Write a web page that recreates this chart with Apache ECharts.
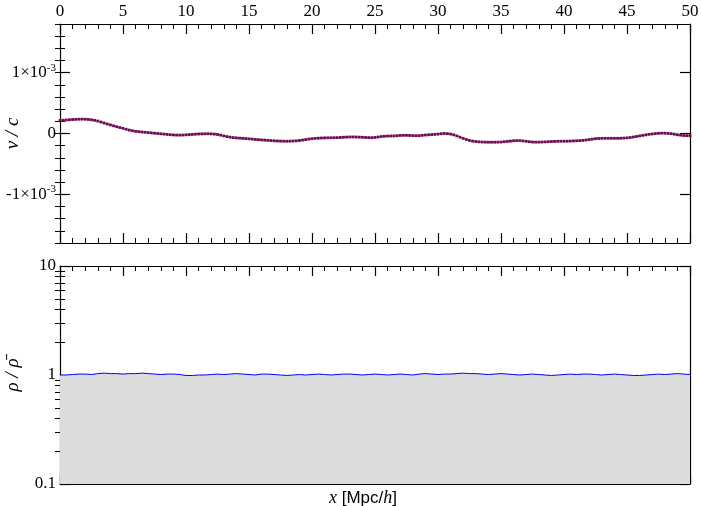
<!DOCTYPE html>
<html><head><meta charset="utf-8">
<script src="https://cdn.jsdelivr.net/npm/echarts@6/dist/echarts.min.js"></script>
<style>html,body{margin:0;padding:0;background:#fff}#c{width:701px;height:506px}</style>
</head><body><div id="c"></div>
<script>
// x step of the sampled profiles (Mpc/h)
const VEL_STEP = 0.25;
const DEN_STEP = 0.5;
// peculiar velocity v/c, in units of 1e-3, x = 0..50 every 0.25
const velocity = [
 .213,.218,.222,.226,.230,.233,.235,.236,.235,.231,.225,.216,.205,.188,.172,.156,.141,.126,.111,.098,
 .085,.070,.056,.045,.036,.030,.025,.020,.015,.010,.005,.000,-.005,-.010,-.015,-.020,-.024,-.026,-.027,-.025,
 -.022,-.018,-.015,-.011,-.008,-.006,-.005,-.004,-.006,-.010,-.016,-.027,-.040,-.051,-.060,-.067,-.072,-.076,-.080,-.084,
 -.088,-.092,-.097,-.101,-.105,-.109,-.113,-.117,-.120,-.123,-.125,-.126,-.127,-.126,-.124,-.120,-.115,-.108,-.100,-.092,
 -.085,-.080,-.077,-.074,-.072,-.071,-.070,-.069,-.068,-.065,-.062,-.059,-.057,-.057,-.058,-.060,-.062,-.065,-.068,-.068,
 -.065,-.058,-.050,-.045,-.042,-.041,-.040,-.036,-.032,-.030,-.030,-.032,-.035,-.036,-.035,-.030,-.025,-.021,-.018,-.014,
 -.010,-.004,.000,-.003,-.010,-.022,-.040,-.060,-.080,-.098,-.115,-.125,-.132,-.137,-.140,-.142,-.143,-.143,-.143,-.142,
 -.140,-.135,-.130,-.125,-.120,-.117,-.118,-.122,-.128,-.135,-.140,-.142,-.142,-.140,-.138,-.135,-.132,-.130,-.128,-.127,
 -.127,-.126,-.124,-.122,-.120,-.117,-.113,-.107,-.100,-.092,-.085,-.082,-.080,-.079,-.079,-.079,-.079,-.079,-.078,-.075,
 -.072,-.066,-.058,-.049,-.040,-.031,-.022,-.014,-.008,-.002,.003,.005,.005,.002,-.003,-.011,-.020,-.027,-.033,-.035,
 -.035
];
// density contrast rho/rhobar, x = 0..50 every 0.5
const density = [
 1.00,1.00,1.01,1.02,1.02,1.01,1.03,1.04,1.03,1.03,
 1.02,1.03,1.03,1.04,1.03,1.02,1.01,1.02,1.02,1.01,
 0.99,0.99,1.00,1.00,1.01,1.02,1.01,1.02,1.03,1.02,
 1.01,1.00,1.02,1.02,1.01,1.00,0.99,1.00,1.01,1.00,
 1.01,1.02,1.01,1.00,1.01,1.02,1.02,1.01,1.00,1.01,
 1.02,1.01,1.00,1.01,1.02,1.01,1.00,1.02,1.03,1.02,
 1.01,1.02,1.02,1.03,1.04,1.03,1.03,1.02,1.01,1.02,
 1.03,1.02,1.01,1.00,1.01,1.02,1.01,1.00,0.99,1.00,
 1.01,1.02,1.01,1.02,1.02,1.01,1.00,1.01,1.02,1.01,
 1.00,0.99,0.99,1.00,1.01,1.02,1.01,1.02,1.03,1.02,
 1.01
];
const velMajorTicks = [-1, 0, 1];
const denMinorTicks = [0.2,0.3,0.4,0.5,0.6,0.7,0.8,0.9,2,3,4,5,6,7,8,9];

const velData = velocity.map((v, i) => [i * VEL_STEP, v]);
const denData = density.map((d, i) => [i * DEN_STEP, d]);

const FONT = '"Liberation Serif", "DejaVu Serif", serif';
const lineStyle = {color: '#000', width: 1.2};
const labelStyle = {color: '#000', fontFamily: FONT, fontSize: 17};

function xAx(grid, pos, labels, extra) {
  return Object.assign({
    type: 'value', gridIndex: grid, position: pos, min: 0, max: 50, interval: 5,
    axisLine: {show: true, onZero: false, lineStyle},
    axisTick: {show: true, inside: true, length: 10, lineStyle},
    minorTick: {show: true, splitNumber: 5, length: 5, lineStyle: {color: '#000', width: 1}},
    axisLabel: Object.assign({show: labels, margin: 4}, labelStyle),
    splitLine: {show: false}
  }, extra || {});
}
const velLabel = v => v === 0 ? '0' : (v > 0 ? '1×10{s|-3}' : '-1×10{s|-3}');

const chart = echarts.init(document.getElementById('c'), null, {renderer: 'canvas'});
chart.setOption({
  animation: false,
  backgroundColor: '#fff',
  grid: [
    {left: 60, right: 11, top: 24, height: 219, outerBoundsMode: 'none', containLabel: false},
    {left: 60, right: 11, top: 266, height: 218, outerBoundsMode: 'none', containLabel: false}
  ],
  xAxis: [
    xAx(0, 'bottom', false),
    xAx(0, 'top', true),
    xAx(1, 'bottom', false, {
      name: '{i|x} [Mpc/{i|h}]', nameLocation: 'middle', nameGap: 5, nameMoveOverlap: false,
      nameTextStyle: {color: '#000', fontFamily: '"Liberation Sans", Arial, sans-serif', fontSize: 17,
        verticalAlign: 'top', padding: [0, 24, 0, 0],
        rich: {i: {fontFamily: FONT, fontStyle: 'italic', fontSize: 18}}}
    }),
    xAx(1, 'top', false)
  ],
  yAxis: [
    {type: 'value', gridIndex: 0, position: 'left', min: -1.8, max: 1.8,
     name: 'v / c', nameLocation: 'middle', nameGap: 38, nameRotate: 90, nameMoveOverlap: false,
     nameTextStyle: {color: '#000', fontFamily: FONT, fontStyle: 'italic', fontSize: 19},
     axisLine: {show: true, onZero: false, lineStyle},
     axisTick: {show: true, inside: true, length: 10, lineStyle, customValues: velMajorTicks},
     axisLabel: Object.assign({show: true, margin: 4, customValues: velMajorTicks, formatter: velLabel,
       rich: {s: {fontSize: 11, fontFamily: FONT, padding: [0, 0, 10, 0]}}}, labelStyle),
     splitLine: {show: false}},
    {type: 'value', gridIndex: 0, position: 'left', min: -1.8, max: 1.8, interval: 0.2,
     axisLine: {show: false}, axisTick: {show: true, inside: true, length: 5, lineStyle: {color: '#000', width: 1}},
     axisLabel: {show: false}, splitLine: {show: false}},
    {type: 'value', gridIndex: 0, position: 'right', min: -1.8, max: 1.8,
     axisLine: {show: true, onZero: false, lineStyle},
     axisTick: {show: true, inside: true, length: 10, lineStyle, customValues: velMajorTicks},
     axisLabel: {show: false}, splitLine: {show: false}},
    {type: 'value', gridIndex: 0, position: 'right', min: -1.8, max: 1.8, interval: 0.2,
     axisLine: {show: false}, axisTick: {show: true, inside: true, length: 5, lineStyle: {color: '#000', width: 1}},
     axisLabel: {show: false}, splitLine: {show: false}},
    {type: 'log', logBase: 10, gridIndex: 1, position: 'left', min: 0.1, max: 10,
     name: 'ρ / ρ\u0304', nameLocation: 'middle', nameGap: 38, nameRotate: 90, nameMoveOverlap: false,
     nameTextStyle: {color: '#000', fontFamily: FONT, fontStyle: 'italic', fontSize: 19},
     axisLine: {show: true, onZero: false, lineStyle},
     axisTick: {show: true, inside: true, length: 10, lineStyle},
     axisLabel: Object.assign({show: true, margin: 4, formatter: v => String(v)}, labelStyle),
     splitLine: {show: false}},
    {type: 'value', gridIndex: 1, position: 'left', min: -1, max: 1,
     axisLine: {show: false},
     axisTick: {show: true, inside: true, length: 5, lineStyle: {color: '#000', width: 1},
       customValues: denMinorTicks.map(Math.log10)},
     axisLabel: {show: false}, splitLine: {show: false}},
    {type: 'log', logBase: 10, gridIndex: 1, position: 'right', min: 0.1, max: 10,
     axisLine: {show: true, onZero: false, lineStyle},
     axisTick: {show: true, inside: true, length: 10, lineStyle},
     axisLabel: {show: false}, splitLine: {show: false}},
    {type: 'value', gridIndex: 1, position: 'right', min: -1, max: 1,
     axisLine: {show: false},
     axisTick: {show: true, inside: true, length: 5, lineStyle: {color: '#000', width: 1},
       customValues: denMinorTicks.map(Math.log10)},
     axisLabel: {show: false}, splitLine: {show: false}}
  ],
  series: [
    {type: 'line', xAxisIndex: 0, yAxisIndex: 0, data: velData,
     symbol: 'rect', symbolSize: 2.8, showSymbol: true,
     itemStyle: {color: '#6e0b52'},
     lineStyle: {color: '#c48ab0', width: 1.5}, z: 3},
    {type: 'line', xAxisIndex: 2, yAxisIndex: 4, data: denData,
     symbol: 'none', lineStyle: {color: '#0000ff', width: 1},
     areaStyle: {color: '#dcdcdc', opacity: 1, origin: 'start'}, z: 1}
  ]
});
</script></body></html>
